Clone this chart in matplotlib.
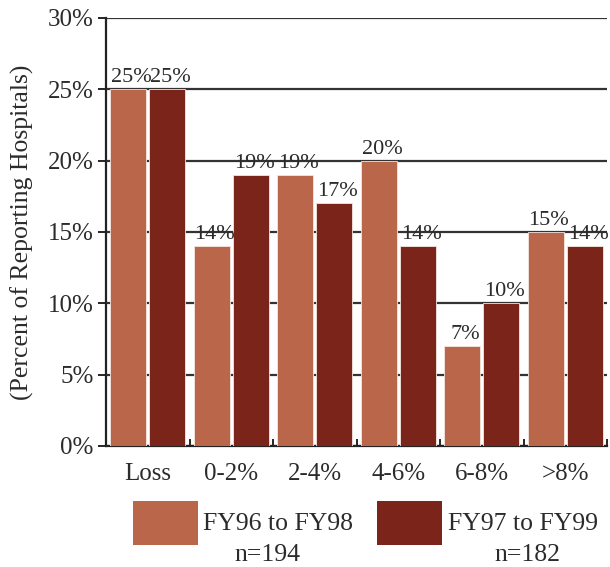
import matplotlib
matplotlib.use("Agg")
import matplotlib.pyplot as plt
import numpy as np
from matplotlib.patches import Rectangle

categories = ["Loss", "0-2%", "2-4%", "4-6%", "6-8%", ">8%"]
fy96_98 = [25, 14, 19, 20, 7, 15]
fy97_99 = [25, 19, 17, 14, 10, 14]
series_names = ["FY96 to FY98", "FY97 to FY99"]
series_n = ["n=194", "n=182"]
yticks = [0, 5, 10, 15, 20, 25, 30]

c1 = "#B9664A"
c2 = "#7B2419"
txt = "#2b2b2b"

plt.rcParams["font.family"] = ["Liberation Serif", "DejaVu Serif"]

W, H = 610, 567
fig = plt.figure(figsize=(W / 100, H / 100), dpi=100)
ax = fig.add_axes([106 / W, 1 - 446 / H, 501 / W, 428 / H])

x = np.arange(len(categories))
w = 0.43
off = 0.235
b1 = ax.bar(x - off, fy96_98, w, color=c1, edgecolor="#f3e6e0", linewidth=0.6, zorder=3)
b2 = ax.bar(x + off, fy97_99, w, color=c2, edgecolor="#f3e6e0", linewidth=0.6, zorder=3)

for bars, vals in ((b1, fy96_98), (b2, fy97_99)):
    for r, v in zip(bars, vals):
        ax.text(r.get_x() + r.get_width() / 2 + 0.04, v + 0.15, f"{v}%",
                ha="center", va="bottom", fontsize=16, color=txt, zorder=4)

ax.set_xlim(-0.5, len(categories) - 0.5)
ax.set_ylim(0, 30)
ax.set_yticks(yticks)
ax.set_yticklabels([f"{t}%" for t in yticks], fontsize=18, color=txt)
ax.yaxis.grid(True, color="#333333", linewidth=1.6, zorder=1)
ax.set_axisbelow(True)

ax.set_xticks(x)
ax.set_xticklabels(categories, fontsize=18, color=txt)
ax.tick_params(axis="x", length=0, pad=12)
ax.tick_params(axis="y", length=6, width=1.2, direction="out", pad=3)
# small separators between categories on the baseline
ax.set_xticks(np.arange(len(categories) + 1) - 0.5, minor=True)
ax.tick_params(axis="x", which="minor", length=5, width=1.2, direction="in")

for s in ("right", "top"):
    ax.spines[s].set_visible(False)
for s in ("left", "bottom"):
    ax.spines[s].set_linewidth(1.6)
    ax.spines[s].set_color("#222222")

ax.set_ylabel("(Percent of Reporting Hospitals)", fontsize=18.5, color=txt)
ax.yaxis.set_label_coords(-72 / 501, 0.5)

# legend: swatch, series name, and sample size underneath
legend_items = [
    (c1, 133, 203, 267),
    (c2, 377, 448, 527),
]
for (col, sx, tx, nx), name, n in zip(legend_items, series_names, series_n):
    fig.patches.append(Rectangle((sx / W, 1 - 545 / H), 65 / W, 44 / H,
                                 transform=fig.transFigure, facecolor=col,
                                 edgecolor="none"))
    fig.text(tx / W, 1 - 524 / H, name, fontsize=18.5, color=txt,
             ha="left", va="center")
    fig.text(nx / W, 1 - 555 / H, n, fontsize=18.5, color=txt,
             ha="center", va="center")

fig.savefig("out.png", dpi=100, facecolor="white")
